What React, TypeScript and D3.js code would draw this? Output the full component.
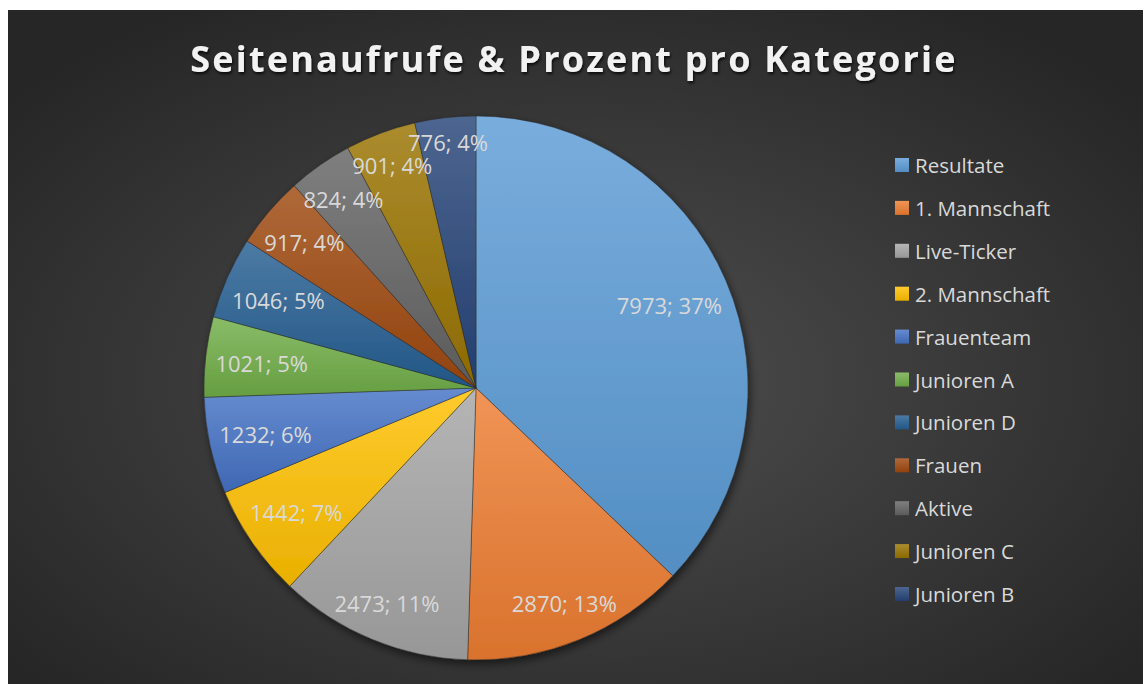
import React, { useEffect, useRef } from 'react';
import * as d3 from 'd3';

const categories = [
  'Resultate', '1. Mannschaft', 'Live-Ticker', '2. Mannschaft', 'Frauenteam',
  'Junioren A', 'Junioren D', 'Frauen', 'Aktive', 'Junioren C', 'Junioren B'
];
const views = [7973, 2870, 2473, 1442, 1232, 1021, 1046, 917, 824, 901, 776];
const percents = [37, 13, 11, 7, 6, 5, 5, 4, 4, 4, 4];
const colors = [
  '#5B9BD5', '#ED7D31', '#A5A5A5', '#FFC000', '#4472C4', '#70AD47',
  '#255E91', '#9E480E', '#636363', '#997300', '#264478'
];

const W = 1135;
const H = 674;

const App = () => {
  const ref = useRef<SVGSVGElement>(null);

  useEffect(() => {
    const svg = d3.select(ref.current);
    svg.selectAll('*').remove();
    svg.attr('width', W).attr('height', H);

    const defs = svg.append('defs');
    const bg = defs.append('radialGradient').attr('id', 'bg')
      .attr('cx', '50%').attr('cy', '55%').attr('r', '65%');
    bg.append('stop').attr('offset', '0%').attr('stop-color', '#4f4f4f');
    bg.append('stop').attr('offset', '100%').attr('stop-color', '#262626');

    const shadow = defs.append('filter').attr('id', 'shadow')
      .attr('x', '-20%').attr('y', '-20%').attr('width', '140%').attr('height', '140%');
    shadow.append('feDropShadow').attr('dx', 2).attr('dy', 4)
      .attr('stdDeviation', 4).attr('flood-color', '#000').attr('flood-opacity', 0.55);

    const tshadow = defs.append('filter').attr('id', 'tshadow');
    tshadow.append('feDropShadow').attr('dx', 1).attr('dy', 2)
      .attr('stdDeviation', 1.5).attr('flood-color', '#000').attr('flood-opacity', 0.8);

    colors.forEach((c, i) => {
      const g = defs.append('linearGradient').attr('id', `sg${i}`)
        .attr('x1', 0).attr('y1', 0).attr('x2', 0).attr('y2', 1);
      g.append('stop').attr('offset', '0%').attr('stop-color', d3.interpolateRgb(c, '#ffffff')(0.18));
      g.append('stop').attr('offset', '100%').attr('stop-color', d3.color(c)!.darker(0.25).toString());
    });

    svg.append('rect').attr('width', W).attr('height', H).attr('fill', 'url(#bg)');

    svg.append('text')
      .attr('x', 566).attr('y', 62)
      .attr('text-anchor', 'middle')
      .style('font-family', '"Open Sans", sans-serif')
      .style('font-weight', 700)
      .style('font-size', '36px')
      .style('letter-spacing', '2.2px')
      .style('fill', '#f2f2f2')
      .attr('filter', 'url(#tshadow)')
      .text('Seitenaufrufe & Prozent pro Kategorie');

    const cx = 468;
    const cy = 378;
    const radius = 272;

    const pie = d3.pie<number>().sort(null).value(d => d);
    const arcs = pie(views);
    const arc = d3.arc<d3.PieArcDatum<number>>().innerRadius(0).outerRadius(radius);

    const g = svg.append('g').attr('transform', `translate(${cx},${cy})`);
    g.append('g').attr('filter', 'url(#shadow)')
      .selectAll('path')
      .data(arcs)
      .enter()
      .append('path')
      .attr('d', arc)
      .attr('fill', (d, i) => `url(#sg${i})`)
      .attr('stroke', 'rgba(40,40,40,0.6)')
      .attr('stroke-width', 0.75);

    // labels placed "inside end" like the original
    const labels = g.selectAll('text.lbl')
      .data(arcs)
      .enter()
      .append('text')
      .attr('class', 'lbl')
      .attr('text-anchor', 'middle')
      .attr('dominant-baseline', 'central')
      .style('font-family', '"Open Sans", sans-serif')
      .style('font-size', '22px')
      .style('fill', '#d9d9d9')
      .text((d, i) => `${d.data}; ${percents[i]}%`);

    labels.each(function (d) {
      const el = this as SVGTextElement;
      const w = el.getComputedTextLength();
      const h = 22;
      const a = (d.startAngle + d.endAngle) / 2;
      const ux = Math.sin(a);
      const uy = -Math.cos(a);
      const dist = radius - 9 - Math.abs(ux) * w / 2 - Math.abs(uy) * h / 2;
      d3.select(el).attr('x', ux * dist).attr('y', uy * dist);
    });

    const legend = svg.append('g').attr('transform', 'translate(887,155)');
    const rows = legend.selectAll('g')
      .data(categories)
      .enter()
      .append('g')
      .attr('transform', (d, i) => `translate(0,${i * 42.9})`);
    rows.append('rect')
      .attr('x', 0).attr('y', -7).attr('width', 14).attr('height', 14)
      .attr('fill', (d, i) => `url(#sg${i})`);
    rows.append('text')
      .attr('x', 20).attr('y', 0)
      .attr('dominant-baseline', 'central')
      .style('font-family', '"Open Sans", sans-serif')
      .style('font-size', '20.5px')
      .style('fill', '#d9d9d9')
      .text(d => d);
  }, []);

  return (
    <div style={{ position: 'absolute', left: 8, top: 10, width: W, height: H }}>
      <svg ref={ref} style={{ display: 'block' }}></svg>
    </div>
  );
};

export default App;
